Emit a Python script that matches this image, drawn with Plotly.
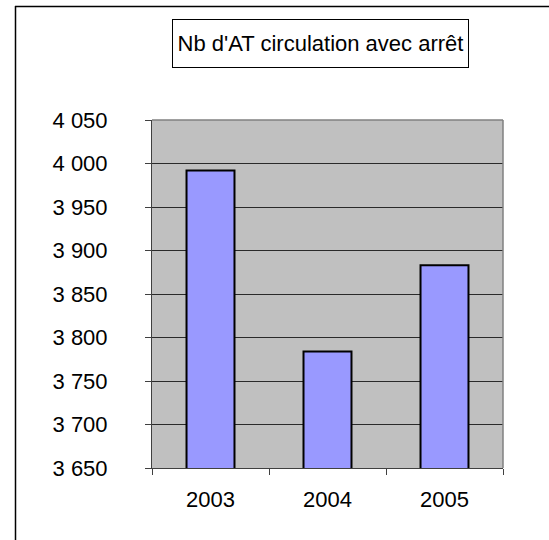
import plotly.graph_objects as go

years = ["2003", "2004", "2005"]
accidents = [3992, 3784, 3883]
y_tick_vals = [3650, 3700, 3750, 3800, 3850, 3900, 3950, 4000, 4050]
y_tick_text = ["3 650", "3 700", "3 750", "3 800", "3 850", "3 900", "3 950", "4 000", "4 050"]
title_text = "Nb d'AT circulation avec arrêt"

W, H = 549, 540
L, R, T, B = 152, 46, 120, 72
pw, ph = W - L - R, H - T - B

def px(x):
    return (x - L) / pw

def py(y):
    return (H - B - y) / ph

fig = go.Figure(go.Bar(
    x=years, y=accidents,
    marker=dict(color="#9999FF", line=dict(color="#000000", width=2)),
    width=0.41,
))

font = "Liberation Sans, Arial, sans-serif"

fig.update_layout(
    width=W, height=H,
    margin=dict(l=L, r=R, t=T, b=B, autoexpand=False),
    paper_bgcolor="white",
    plot_bgcolor="#C0C0C0",
    showlegend=False,
    font=dict(family=font, size=22, color="black"),
    xaxis=dict(
        type="category", tickson="boundaries", ticks="outside", ticklen=6,
        tickcolor="#404040", showline=True, linecolor="#404040", linewidth=1,
        showgrid=False, tickfont=dict(size=22), ticklabelstandoff=12,
    ),
    yaxis=dict(
        range=[3650, 4050], tickvals=y_tick_vals, ticktext=y_tick_text,
        ticks="outside", ticklen=6, tickcolor="#404040",
        showline=True, linecolor="#404040", linewidth=1,
        showgrid=True, gridcolor="#2a2a2a", gridwidth=1, zeroline=False,
        tickfont=dict(size=22), ticklabelstandoff=33,
    ),
    annotations=[dict(
        text=title_text, xref="paper", yref="paper",
        x=px(320.5), y=py(43.5), xanchor="center", yanchor="middle",
        showarrow=False, font=dict(size=22, family=font),
        bordercolor="black", borderwidth=1, borderpad=1,
        width=293, height=45, bgcolor="white",
    )],
    shapes=[
        dict(type="line", xref="paper", yref="paper", x0=0, x1=1, y0=1, y1=1,
             line=dict(color="#808080", width=1.5)),
        dict(type="line", xref="paper", yref="paper", x0=1, x1=1, y0=0, y1=1,
             line=dict(color="#808080", width=1.5)),
        dict(type="line", xref="paper", yref="paper", x0=px(15), x1=px(549), y0=py(6.5), y1=py(6.5),
             line=dict(color="black", width=1.5)),
        dict(type="line", xref="paper", yref="paper", x0=px(15.5), x1=px(15.5), y0=py(6), y1=py(540),
             line=dict(color="black", width=1.5)),
    ],
)

fig.write_html("out.html", config={"displayModeBar": False})

with open("out.html", "r", encoding="utf-8") as f:
    html = f.read()
html = html.replace("<body>", '<body style="margin:0;padding:0;overflow:hidden">', 1)
with open("out.html", "w", encoding="utf-8") as f:
    f.write(html)
